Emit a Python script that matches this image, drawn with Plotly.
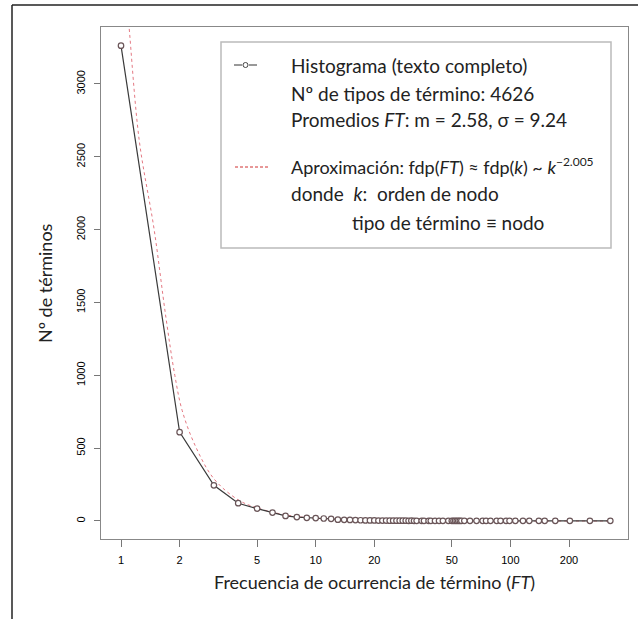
import plotly.graph_objects as go

# ---------------- data ----------------
ft_values = [1, 2, 3, 4, 5, 6, 7, 8, 9, 10, 11, 12,
             13, 14, 15, 16, 17, 18, 19, 20, 21, 22, 23, 24, 25, 26, 27, 28, 29, 30, 31, 32, 33,
             35, 36, 38, 39, 41, 43, 45, 48, 50, 51, 52, 53, 54, 55, 56, 58,
             62, 67, 72, 75, 79, 85, 89, 95, 99,
             106, 116, 125, 140, 150, 170, 202, 256, 326]
n_terms = [3263, 610, 245, 122, 85, 58, 35, 27, 22, 20, 17, 15,
           9, 8, 7, 6, 5, 4, 4, 4, 3, 3, 3, 2, 2, 2, 2, 2, 2, 1, 2, 1, 1,
           1, 1, 1, 1, 1, 1, 1, 1, 1, 1, 1, 1, 1, 1, 1, 1,
           1, 1, 1, 1, 1, 1, 1, 1, 1,
           1, 1, 1, 1, 1, 1, 1, 1, 1]
# fitted curve
fit_x = [1.08, 1.10, 1.24, 1.48, 1.70, 1.89, 2.06, 2.4, 3.0, 4.0, 5.0, 7.0, 10, 15, 20, 35, 50, 100, 200, 330]
fit_y = [3500, 3391, 2615, 2000, 1400, 1000, 760, 520, 290, 145, 90, 42, 19, 8, 5, 1.6, 0.8, 0.2, 0.05, 0.02]

x_ticks = [1, 2, 5, 10, 20, 50, 100, 200]
y_ticks = [0, 500, 1000, 1500, 2000, 2500, 3000]

W, H = 638, 619
L, R, T, B = 101, 628, 27, 539  # plot box in pixels


def px(x):
    return (x - L) / (R - L)


def py(y):
    return (B - y) / (B - T)


FONT = "Lato"

fig = go.Figure()
fig.add_trace(go.Scatter(x=fit_x, y=fit_y, mode="lines",
                         line=dict(color="rgb(228,120,130)", width=1, dash="dot", shape="spline"),
                         hoverinfo="skip", showlegend=False))
fig.add_trace(go.Scatter(x=ft_values, y=n_terms, mode="lines+markers",
                         line=dict(color="#3a3a3a", width=1.2),
                         marker=dict(symbol="circle", size=5.5, color="white", line=dict(color="#6a5558", width=1.2)),
                         showlegend=False))

tickfont = dict(family="Liberation Sans", size=11, color="#000")
fig.update_xaxes(type="log", range=[-0.1027, 2.604], tickvals=x_ticks, ticktext=[str(v) for v in x_ticks],
                 ticks="outside", ticklen=7, tickcolor="#777", showline=True, linecolor="#888", mirror=True,
                 showgrid=False, zeroline=False, tickfont=tickfont, ticklabelstandoff=4)
fig.update_yaxes(range=[-123.6, 3391], tickvals=y_ticks, ticks="outside", ticklen=6, tickcolor="#777",
                 showline=True, linecolor="#888", mirror=True, showgrid=False, zeroline=False, tickangle=-90,
                 tickfont=tickfont, ticklabelstandoff=5)

shapes = []
# outer frame
shapes.append(dict(type="line", xref="paper", yref="paper", x0=px(12), x1=px(660), y0=py(5), y1=py(5),
                   line=dict(color="#222", width=1.5)))
shapes.append(dict(type="line", xref="paper", yref="paper", x0=px(12), x1=px(12), y0=py(5), y1=py(640),
                   line=dict(color="#222", width=1.5)))
# legend box
shapes.append(dict(type="rect", xref="paper", yref="paper", x0=px(221), x1=px(611), y0=py(42), y1=py(248),
                   line=dict(color="#bbb", width=1.5), fillcolor="white", layer="above"))
# legend symbols
shapes.append(dict(type="line", xref="paper", yref="paper", x0=px(234), x1=px(242), y0=py(65), y1=py(65),
                   line=dict(color="#333", width=1)))
shapes.append(dict(type="line", xref="paper", yref="paper", x0=px(249), x1=px(257), y0=py(65), y1=py(65),
                   line=dict(color="#333", width=1)))
shapes.append(dict(type="circle", xref="paper", yref="paper", x0=px(243), x1=px(248), y0=py(62.5), y1=py(67.5),
                   line=dict(color="#444", width=1)))
shapes.append(dict(type="line", xref="paper", yref="paper", x0=px(235), x1=px(268), y0=py(167), y1=py(167),
                   line=dict(color="#d03030", width=1, dash="3px,2px")))

ann = []
lines = [
    (289, 65, "Histograma (texto completo)", 19),
    (289, 93, "Nº de tipos de término: 4626", 19),
    (289, 119, "Promedios <i>FT</i>: m = 2.58, σ = 9.24", 19),
    (289, 166, "Aproximación: fdp(<i>FT</i>) ≈ fdp(<i>k</i>) ~ <i>k</i><sup><span style='font-size:12px'>−2.005</span></sup>", 18),
    (289, 193, "donde\u00a0\u00a0<i>k</i>:\u00a0\u00a0orden de nodo", 19),
    (350, 222, "tipo de término ≡ nodo", 19),
]
for x, y, t, s in lines:
    ann.append(dict(xref="paper", yref="paper", x=px(x), y=py(y), xanchor="left", yanchor="middle", text=t,
                    showarrow=False, font=dict(family=FONT, size=s, color="#222")))
ann.append(dict(xref="paper", yref="paper", x=px(374), y=py(582),
                text="Frecuencia de ocurrencia de término (<i>FT</i>)",
                showarrow=False, xanchor="center", yanchor="middle", font=dict(family=FONT, size=18, color="#222")))
ann.append(dict(xref="paper", yref="paper", x=px(45), y=py(283), text="Nº de términos", textangle=-90,
                showarrow=False, xanchor="center", yanchor="middle", font=dict(family=FONT, size=18, color="#222")))

fig.update_layout(width=W, height=H, margin=dict(l=L, r=W - R, t=T, b=H - B, pad=0),
                  plot_bgcolor="white", paper_bgcolor="white", shapes=shapes, annotations=ann)

fig.write_html("out.html", config={"displayModeBar": False},
               post_script="document.body.style.margin='0';document.body.style.overflow='hidden';")
